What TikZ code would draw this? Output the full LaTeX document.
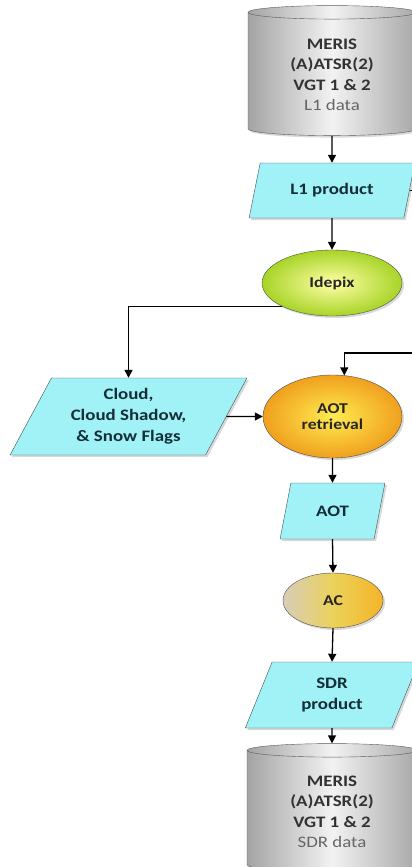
\documentclass[tikz,border=0pt]{standalone}
\usepackage{fontspec}
\setmainfont{Carlito}[FakeStretch=1.18]
\usetikzlibrary{shapes.geometric}
\usetikzlibrary{arrows.meta}
\usetikzlibrary{shadows}

\definecolor{paracyan}{RGB}{160,242,246}
\definecolor{paraedge}{RGB}{60,80,85}
\definecolor{paratext}{RGB}{20,45,55}
\definecolor{storetext}{RGB}{50,50,50}

\tikzset{
  store/.style={cylinder, shape border rotate=90, aspect=0.15, draw=black!65,
    left color=black!36, right color=black!34, middle color=black!5,
    text=storetext, font=\fontsize{16}{20.5}\selectfont\bfseries, align=center,
    drop shadow={shadow xshift=2pt, shadow yshift=-2pt, opacity=0.3}},
  para/.style={trapezium, trapezium left angle=65, trapezium right angle=115,
    trapezium stretches=true, draw=paraedge, fill=paracyan, text=paratext,
    font=\fontsize{16}{21}\selectfont\bfseries, align=center, inner sep=0pt,
    drop shadow={shadow xshift=2pt, shadow yshift=-2pt, opacity=0.3}},
  proc/.style={ellipse, draw=black!70, text=black!85, align=center,
    font=\fontsize{15}{16}\selectfont\bfseries,
    drop shadow={shadow xshift=2pt, shadow yshift=-2pt, opacity=0.3}},
  link/.style={line width=1.3pt, -{Triangle[length=8pt,width=8pt]}}
}

\begin{document}
\begin{tikzpicture}[x=1pt, y=-1pt]
\useasboundingbox (0,0) rectangle (412,867);

% main chain
\node[store, minimum width=168, minimum height=130] (l1data) at (332,75)
  {MERIS\\(A)ATSR(2)\\VGT 1 \& 2\\\textcolor{black!60}{\mdseries L1 data}};
\node[para, minimum width=166, minimum height=55] (l1prod) at (332,190.5) {L1 product};
\node[proc, minimum width=140, minimum height=66,
  inner color=yellow!35!white, outer color={rgb,255:red,168;green,212;blue,40}] (idepix) at (332,283) {Idepix};
\node[para, trapezium left angle=61, trapezium right angle=119,
  minimum width=237, minimum height=77] (flags) at (128.5,416.5)
  {Cloud,\\Cloud Shadow,\\\& Snow Flags};
\node[proc, minimum width=139, minimum height=83,
  inner color={rgb,255:red,255;green,236;blue,80}, outer color={rgb,255:red,240;green,160;blue,30}] (aotret) at (332.5,416.5) {AOT\\retrieval};
\node[para, trapezium left angle=68, trapezium right angle=112,
  minimum width=105, minimum height=56] (aot) at (332.5,511) {AOT};
\node[proc, minimum width=100, minimum height=55,
  left color={rgb,255:red,215;green,205;blue,185}, right color={rgb,255:red,245;green,180;blue,40},
  middle color={rgb,255:red,235;green,210;blue,90}] (ac) at (333,600.5) {AC};
\node[para, trapezium left angle=68, trapezium right angle=112,
  minimum width=174, minimum height=66] (sdrprod) at (332,695) {SDR\\product};
\node[store, minimum width=170, minimum height=128] (sdrdata) at (332,812)
  {MERIS\\(A)ATSR(2)\\VGT 1 \& 2\\\textcolor{black!60}{\mdseries SDR data}};

\coordinate (loop) at (440,353);

% connectors
\draw[link] (l1data.south) -- (l1prod.north);
\draw[link] (l1prod.south) -- (idepix.north);
\draw[link] (idepix.south west) -| (flags.north);
\draw[link] (l1prod.east) -| (loop) -| (aotret.74);
\draw[link] (flags.east) -- (aotret.west);
\draw[link] (aotret.south) -- (aot.north);
\draw[link] (aot.south) -- (ac.north);
\draw[link] (ac.south) -- (sdrprod.north);
\draw[link] (sdrprod.south) -- (sdrdata.north);
\end{tikzpicture}
\end{document}
